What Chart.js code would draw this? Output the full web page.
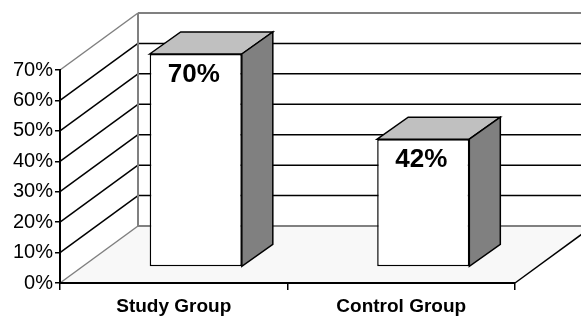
<!DOCTYPE html>
<html><head><meta charset="utf-8">
<script src="https://cdn.jsdelivr.net/npm/chart.js@4.4.1/dist/chart.umd.min.js"></script>
<style>html,body{margin:0;padding:0;background:#fff;overflow:hidden}canvas{display:block}</style>
</head><body>
<canvas id="c" width="581" height="318"></canvas>
<script>
const categories = ['Study Group', 'Control Group'];
const values = [70, 42];
const yMin = 0;
const yMax = 70;
const yStep = 10;

const WALL = {dx: 78, dy: -57};
const BAR_SHIFT = {dx: 22, dy: -16};
const BAR_DEPTH = {dx: 31, dy: -22};
const FONT = '"Liberation Sans", Arial, sans-serif';
const GRAY = '#808080';

function line(ctx, x1, y1, x2, y2, color, w) {
  ctx.beginPath(); ctx.moveTo(x1, y1); ctx.lineTo(x2, y2);
  ctx.strokeStyle = color; ctx.lineWidth = w; ctx.stroke();
}
function poly(ctx, pts, fill, stroke, w) {
  ctx.beginPath(); ctx.moveTo(pts[0][0], pts[0][1]);
  for (let i = 1; i < pts.length; i++) ctx.lineTo(pts[i][0], pts[i][1]);
  ctx.closePath();
  if (fill) { ctx.fillStyle = fill; ctx.fill(); }
  if (stroke) { ctx.strokeStyle = stroke; ctx.lineWidth = w; ctx.lineJoin = 'miter'; ctx.stroke(); }
}

const threeD = {
  id: 'threeD',
  beforeDraw(chart) {
    const ctx = chart.ctx;
    const xs = chart.scales.x, ys = chart.scales.y;
    const L = xs.left, R = xs.right;
    const y0 = ys.getPixelForValue(yMin), yT = ys.getPixelForValue(yMax);
    const dx = WALL.dx, dy = WALL.dy;
    ctx.save();
    ctx.fillStyle = '#fff'; ctx.fillRect(0, 0, chart.width, chart.height);
    // floor
    poly(ctx, [[L, y0], [R, y0], [R + dx, y0 + dy], [L + dx, y0 + dy]], '#f8f8f8');
    // back wall
    ctx.fillStyle = '#fff';
    ctx.fillRect(L + dx, yT + dy, R - L, y0 - yT);
    // left wall
    poly(ctx, [[L, y0], [L, yT], [L + dx, yT + dy], [L + dx, y0 + dy]], '#fff');
    // grid lines
    for (let v = yMin + yStep; v < yMax; v += yStep) {
      const py = ys.getPixelForValue(v);
      line(ctx, L, py, L + dx, py + dy, '#000', 1.5);
      line(ctx, L + dx, py + dy, R + dx + 10, py + dy, '#000', 1.5);
    }
    // wall edges
    line(ctx, L, yT, L + dx, yT + dy, GRAY, 1.5);
    line(ctx, L + dx, yT + dy, R + dx + 10, yT + dy, GRAY, 2);
    line(ctx, L, y0, L + dx, y0 + dy, GRAY, 1.5);
    line(ctx, L + dx, y0 + dy, R + dx + 10, y0 + dy, GRAY, 2);
    line(ctx, L + dx, yT + dy, L + dx, y0 + dy, GRAY, 2);
    // floor right edge
    line(ctx, R, y0, R + dx, y0 + dy, '#000', 1.5);
    ctx.restore();
  },
  beforeDatasetDraw(chart) {
    chart.ctx.save();
    chart.ctx.translate(BAR_SHIFT.dx, BAR_SHIFT.dy);
  },
  afterDatasetDraw(chart, args) {
    const ctx = chart.ctx;
    const ddx = BAR_DEPTH.dx, ddy = BAR_DEPTH.dy;
    args.meta.data.forEach(el => {
      const l = el.x - el.width / 2, r = el.x + el.width / 2, t = el.y, b = el.base;
      poly(ctx, [[l, t], [l + ddx, t + ddy], [r + ddx, t + ddy], [r, t]], '#c0c0c0', '#000', 1.5);
      poly(ctx, [[r, t], [r + ddx, t + ddy], [r + ddx, b + ddy], [r, b]], '#808080', '#000', 1.5);
      ctx.fillStyle = '#000';
      ctx.font = 'bold 26px ' + FONT;
      ctx.textAlign = 'center';
      ctx.textBaseline = 'alphabetic';
      const v = values[el.$context ? el.$context.dataIndex : 0];
    });
    args.meta.data.forEach((el, i) => {
      ctx.fillStyle = '#000';
      ctx.font = 'bold 26px ' + FONT;
      ctx.textAlign = 'center';
      ctx.textBaseline = 'alphabetic';
      ctx.fillText(values[i] + '%', el.x - 2, el.y + 28);
    });
    ctx.restore();
  }
};

new Chart(document.getElementById('c'), {
  type: 'bar',
  data: {
    labels: categories,
    datasets: [{
      data: values,
      backgroundColor: '#fff',
      borderColor: '#000',
      borderWidth: 1.5,
      borderSkipped: false,
      barPercentage: 0.405,
      categoryPercentage: 1,
      clip: false
    }]
  },
  options: {
    responsive: false,
    animation: false,
    devicePixelRatio: 1,
    layout: {padding: {top: 70, right: 66, left: 0, bottom: 0}},
    plugins: {legend: {display: false}, tooltip: {enabled: false}},
    scales: {
      x: {
        offset: true,
        grid: {offset: true, drawOnChartArea: false, drawTicks: true, tickLength: 7, color: '#000', lineWidth: 1.5},
        border: {display: true, color: '#000', width: 2},
        ticks: {color: '#000', padding: 5, font: {family: FONT, size: 19, weight: 'bold'}, maxRotation: 0},
        afterFit(s) { s.height = 35; }
      },
      y: {
        min: yMin, max: yMax,
        grid: {drawOnChartArea: false, drawTicks: true, tickLength: 5, color: '#000', lineWidth: 1.5},
        border: {display: true, color: '#000', width: 2},
        ticks: {stepSize: yStep, color: '#000', padding: 2, font: {family: FONT, size: 20},
          callback: v => v + '%'},
        afterFit(s) { s.width = 60; }
      }
    }
  },
  plugins: [threeD]
});
</script>
</body></html>
